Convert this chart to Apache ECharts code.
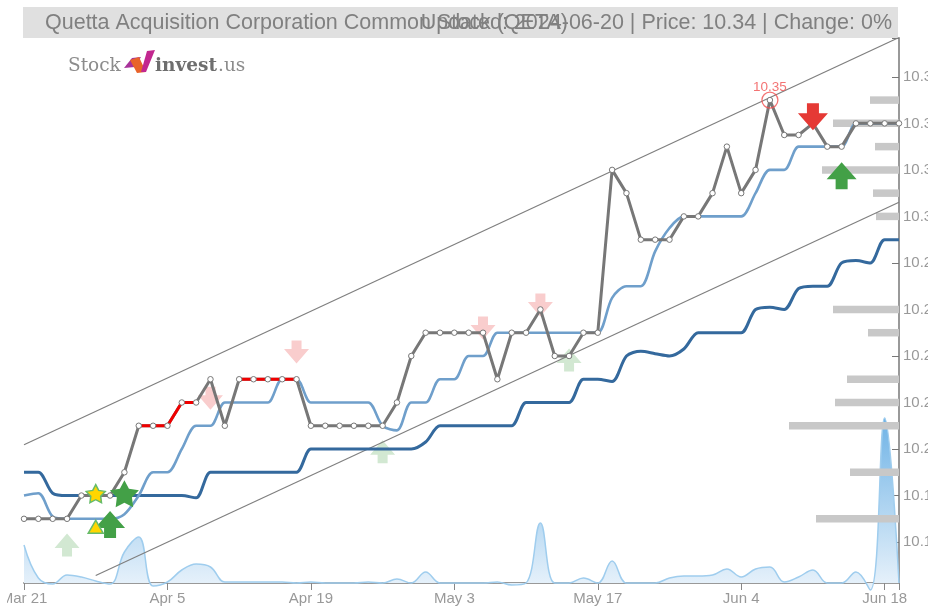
<!DOCTYPE html>
<html lang="en">
  <head>
    <meta charset="UTF-8" />
    <title>Quetta Acquisition Corporation Common Stock (QETA)</title>
    <style>
      html,
      body {
        margin: 0;
        padding: 0;
        background: #fff;
        overflow: hidden;
      }
      #main {
        width: 928px;
        height: 608px;
      }
    </style>
  </head>
  <body>
    <div id="main"></div>
    <script src="https://cdn.jsdelivr.net/npm/echarts@6/dist/echarts.min.js"></script>
    <script>
      const titleLeft = "Quetta Acquisition Corporation Common Stock (QETA)";
      const titleRight = "Updated: 2024-06-20 | Price: 10.34 | Change: 0%";

      // one entry per trading day, only the ticked days have a label
      const tickDays = {
        0: "Mar 21",
        10: "Apr 5",
        20: "Apr 19",
        30: "May 3",
        40: "May 17",
        50: "Jun 4",
        60: "Jun 18",
      };
      const dayCount = 62;
      const days = Array.from({ length: dayCount }, (_, i) => tickDays[i] || "");

      const yMin = 10.1424;
      const yMax = 10.3767;
      const yLabels = [10.16, 10.18, 10.2, 10.22, 10.24, 10.26, 10.28, 10.3, 10.32, 10.34, 10.36];

      const price = [
        10.17, 10.17, 10.17, 10.17, 10.18, 10.18, 10.18, 10.19, 10.21, 10.21,
        10.21, 10.22, 10.22, 10.23, 10.21, 10.23, 10.23, 10.23, 10.23, 10.23,
        10.21, 10.21, 10.21, 10.21, 10.21, 10.21, 10.22, 10.24, 10.25, 10.25,
        10.25, 10.25, 10.25, 10.23, 10.25, 10.25, 10.26, 10.24, 10.24, 10.25,
        10.25, 10.32, 10.31, 10.29, 10.29, 10.29, 10.3, 10.3, 10.31, 10.33,
        10.31, 10.32, 10.35, 10.335, 10.335, 10.34, 10.33, 10.33, 10.34, 10.34,
        10.34, 10.34,
      ];
      const fastAvg = [
        10.18, 10.181, 10.171, 10.17, 10.17, 10.17, 10.17, 10.172, 10.18, 10.19,
        10.19, 10.2, 10.21, 10.21, 10.22, 10.22, 10.22, 10.22, 10.23, 10.23,
        10.22, 10.22, 10.22, 10.22, 10.22, 10.21, 10.208, 10.22, 10.22, 10.23,
        10.23, 10.24, 10.24, 10.25, 10.25, 10.25, 10.25, 10.25, 10.25, 10.25,
        10.25, 10.265, 10.27, 10.27, 10.285, 10.295, 10.3, 10.3, 10.3, 10.3,
        10.3, 10.31, 10.32, 10.32, 10.33, 10.33, 10.33, 10.33, 10.34, 10.34,
        10.34, 10.34,
      ];
      const slowAvg = [
        10.19, 10.19, 10.181, 10.18, 10.18, 10.18, 10.18, 10.18, 10.18, 10.18,
        10.18, 10.18, 10.179, 10.19, 10.19, 10.19, 10.19, 10.19, 10.19, 10.19,
        10.2, 10.2, 10.2, 10.2, 10.2, 10.2, 10.2, 10.2, 10.203, 10.21,
        10.21, 10.21, 10.21, 10.21, 10.21, 10.22, 10.22, 10.22, 10.22, 10.23,
        10.23, 10.229, 10.24, 10.242, 10.241, 10.24, 10.243, 10.25, 10.25, 10.25,
        10.25, 10.26, 10.261, 10.26, 10.269, 10.27, 10.27, 10.28, 10.281, 10.28,
        10.29, 10.29,
      ];
      const volume = [
        38, 5, -1, 8, 6, 2, -1, 31, 46, -3,
        1, 13, 19, 16, 1, 1, 1, 1, 1, 0,
        1, 0, 0, 0, 1, 0, 4, 0, 11, 0,
        0, 0, 0, 1, -2, 0, 60, 0, 0, 5,
        0, 22, 0, 0, 0, 5, 7, 7, 8, 14,
        6, 14, 16, 1, 6, 13, 0, 0, 11, -7,
        165, 0,
      ];

      // days where the price line turns red
      const redRuns = [[8, 12], [15, 19]];

      const channelUpper = [[0, 10.2018], [61, 10.3769]];
      const channelLower = [[5, 10.1456], [61, 10.3061]];

      const profileLevels = [10.35, 10.34, 10.33, 10.32, 10.31, 10.3, 10.26, 10.25, 10.23, 10.22, 10.21, 10.19, 10.17];
      const profileSizes = [29, 66, 24, 77, 26, 23, 66, 31, 52, 64, 110, 49, 83];

      const weakBuy = [[3, 10.1587], [25, 10.1988], [38, 10.2383]];
      const weakSell = [[13, 10.2218], [19, 10.2417], [32, 10.252], [36, 10.2619]];
      const strongBuy = [[6, 10.1675], [57, 10.3175]];
      const strongSell = [[55, 10.3428]];
      const greenStar = [[7, 10.1808]];
      const yellowStar = [[5, 10.1808]];
      const yellowTriangle = [[5, 10.1666]];
      const peak = [[52, 10.35]];

      const upArrow = "path://M15 0L30 17L21 17L21 27L9 27L9 17L0 17Z";
      const downArrow = "path://M9 0L21 0L21 10L30 10L15 27L0 10L9 10Z";
      const star =
        "path://M50 2L65 31L98 36L75 60L79 93L50 78L21 93L25 60L2 36L35 31Z";

      const redPrice = price.map((v, i) =>
        redRuns.some((r) => i >= r[0] && i <= r[1]) ? v : null
      );
      const profile = profileLevels.map((v, i) => [profileSizes[i], v]);

      const marks = (name, data, symbol, size, color, z, border) => ({
        name,
        type: "scatter",
        data,
        symbol,
        symbolSize: size,
        z,
        silent: true,
        itemStyle: border
          ? { color, borderColor: border, borderWidth: 1.5, opacity: 1 }
          : { color, opacity: 1 },
      });

      const thinLine = (name, data) => ({
        name,
        type: "line",
        data,
        symbol: "none",
        z: 3,
        silent: true,
        lineStyle: { color: "#7f7f7f", width: 1.2 },
      });

      const avgLine = (name, data, color, width) => ({
        name,
        type: "line",
        data,
        smooth: 0.3,
        symbol: "none",
        z: 4,
        silent: true,
        lineStyle: { color, width },
      });

      const chart = echarts.init(document.getElementById("main"));
      const option = {
        animation: false,
        backgroundColor: "#fff",
        title: [
          {
            text: titleLeft,
            left: 45,
            top: 12,
            padding: 0,
            textStyle: { color: "#808080", fontSize: 21.5, fontWeight: "normal", fontFamily: "Liberation Sans" },
          },
          {
            text: titleRight,
            right: 36,
            top: 12,
            padding: 0,
            textStyle: { color: "#808080", fontSize: 21.5, fontWeight: "normal", fontFamily: "Liberation Sans" },
          },
        ],
        graphic: [
          { type: "rect", z: -1, shape: { x: 23, y: 7, width: 875, height: 31 }, style: { fill: "#e0e0e0" } },
          { type: "text", z: 20, x: 68, y: 57, style: { text: "Stock", fill: "#8c8c8c", font: "18.5px 'DejaVu Serif'" } },
          { type: "polygon", z: 20, shape: { points: [[124, 68], [132, 58], [141, 57], [135, 67]] }, style: { fill: "#a8329a" } },
          { type: "polygon", z: 20, shape: { points: [[130, 60], [139, 57], [146, 72], [137, 73]] }, style: { fill: "#e8632a" } },
          { type: "polygon", z: 20, shape: { points: [[147, 51], [155, 50], [146, 72], [141, 72]] }, style: { fill: "#c2278f" } },
          { type: "text", z: 20, x: 155, y: 57, style: { text: "invest", fill: "#6e6e6e", font: "bold 18.5px 'DejaVu Serif'" } },
          { type: "text", z: 20, x: 218, y: 57, style: { text: ".us", fill: "#8c8c8c", font: "18.5px 'DejaVu Serif'" } },
          // the first date label is cut off in the original
          { type: "rect", z: 20, shape: { x: 0, y: 590, width: 7, height: 18 }, style: { fill: "#fff" } },
        ],
        grid: { left: 24, right: 29, top: 38, bottom: 25, outerBoundsMode: "none" },
        xAxis: [
          {
            type: "category",
            data: days,
            boundaryGap: false,
            axisLine: { lineStyle: { color: "#999", width: 2 } },
            axisTick: {
              length: 7,
              interval: (i) => i % 10 === 0 || i === dayCount - 1,
              lineStyle: { color: "#888", width: 1 },
            },
            axisLabel: {
              interval: (i) => i % 10 === 0,
              color: "#999",
              fontSize: 15,
              margin: 8,
              fontFamily: "Liberation Sans",
              hideOverlap: false,
              showMinLabel: true,
            },
            splitLine: { show: false },
          },
          { type: "value", show: false, inverse: true, min: 0, max: 875 },
        ],
        yAxis: [
          {
            type: "value",
            position: "right",
            min: yMin,
            max: yMax,
            axisLine: { show: true, lineStyle: { color: "#999", width: 2 } },
            axisTick: {
              show: true,
              inside: true,
              length: 7,
              customValues: yLabels.concat(yMax),
              lineStyle: { color: "#777", width: 1 },
            },
            axisLabel: {
              customValues: yLabels,
              formatter: (v) => v.toFixed(2),
              color: "#999",
              fontSize: 15,
              margin: 4,
              fontFamily: "Liberation Sans",
            },
            splitLine: { show: false },
          },
          { type: "value", show: false, min: 0, max: 545 },
        ],
        series: [
          {
            name: "Volume",
            type: "line",
            yAxisIndex: 1,
            data: volume,
            smooth: 0.4,
            symbol: "none",
            clip: false,
            z: 1,
            silent: true,
            lineStyle: { color: "#9fcdee", width: 1.5 },
            areaStyle: {
              color: new echarts.graphic.LinearGradient(0, 0, 0, 1, [
                { offset: 0, color: "#6fb3e6" },
                { offset: 1, color: "#eaf3fb" },
              ]),
              opacity: 1,
            },
          },
          marks("Weak buy", weakBuy, upArrow, [25, 23], "#d2e8d2", 2),
          marks("Weak sell", weakSell, downArrow, [25, 23], "#f9cdcd", 2),
          {
            name: "Volume profile",
            type: "custom",
            xAxisIndex: 1,
            data: profile,
            z: 3,
            silent: true,
            encode: { x: 0, y: 1 },
            renderItem: (params, api) => {
              const end = api.coord([api.value(0), api.value(1)]);
              const start = api.coord([0, api.value(1)]);
              return {
                type: "rect",
                shape: { x: end[0], y: end[1] - 3.75, width: start[0] - end[0], height: 7.5 },
                style: { fill: "#c8c8c8" },
              };
            },
          },
          thinLine("Upper channel", channelUpper),
          thinLine("Lower channel", channelLower),
          avgLine("Slow average", slowAvg, "#34699d", 3),
          avgLine("Fast average", fastAvg, "#6f9fcb", 2.6),
          {
            name: "Price",
            type: "line",
            data: price,
            symbol: "none",
            z: 5,
            silent: true,
            lineStyle: { color: "#777", width: 3 },
          },
          {
            name: "Price rising",
            type: "line",
            data: redPrice,
            symbol: "none",
            z: 6,
            silent: true,
            lineStyle: { color: "#f00000", width: 3 },
          },
          {
            name: "Price points",
            type: "line",
            data: price,
            symbol: "circle",
            symbolSize: 5.5,
            showSymbol: true,
            showAllSymbol: true,
            z: 7,
            silent: true,
            lineStyle: { width: 0 },
            itemStyle: { color: "#fff", borderColor: "#777", borderWidth: 1 },
          },
          {
            name: "Peak",
            type: "scatter",
            data: peak,
            symbol: "circle",
            symbolSize: 16,
            z: 8,
            silent: true,
            itemStyle: { color: "rgba(0,0,0,0)", borderColor: "#f05050", borderWidth: 1.3 },
            label: {
              show: true,
              position: "top",
              distance: 0,
              offset: [0, 3],
              color: "#f05050",
              fontSize: 13.5,
              fontFamily: "Liberation Sans",
              formatter: (p) => p.value[1].toFixed(2),
            },
          },
          marks("Strong buy", strongBuy, upArrow, [30, 27], "#43a047", 9),
          marks("Strong sell", strongSell, downArrow, [30, 27], "#e53935", 9),
          marks("Green star", greenStar, star, [29, 27], "#43a047", 9),
          marks("Yellow star", yellowStar, star, [19, 18], "#ffd600", 9, "#66bb6a"),
          marks("Yellow triangle", yellowTriangle, "triangle", [15, 13], "#ffd600", 9, "#66bb6a"),
        ],
      };
      chart.setOption(option);
    </script>
  </body>
</html>
